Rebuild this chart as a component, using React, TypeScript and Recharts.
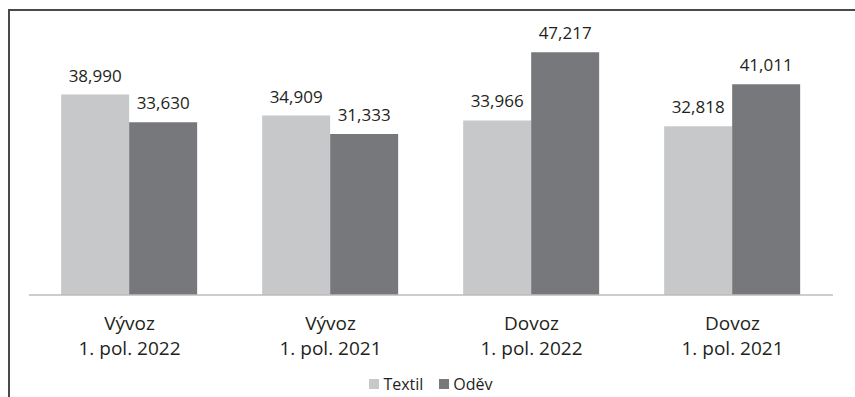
import React from 'react'
import { BarChart, Bar, XAxis, YAxis, Legend, LabelList } from 'recharts'

const categories = ['Vývoz|1. pol. 2022', 'Vývoz|1. pol. 2021', 'Dovoz|1. pol. 2022', 'Dovoz|1. pol. 2021']
const textil = [38990, 34909, 33966, 32818]
const odev = [33630, 31333, 47217, 41011]
const seriesNames = ['Textil', 'Oděv']
const COLORS = ['#c7c8c9', '#77787b']
const FONT = '"Open Sans", sans-serif'

const data = categories.map((name, i) => ({ name, textil: textil[i], odev: odev[i] }))

const fmt = (v: number) => v.toLocaleString('en-US')

const CategoryTick = (props: any) => {
	const { x, y, payload } = props
	const [line1, line2] = String(payload.value).split('|')
	return (
		<text x={x} y={y} textAnchor="middle" fill="#231f20" fontSize={19} fontFamily={FONT}>
			<tspan x={x} dy={27}>{line1}</tspan>
			<tspan x={x} dy={25}>{line2}</tspan>
		</text>
	)
}

const LegendContent = () => (
	<div style={{ display: 'flex', justifyContent: 'center', alignItems: 'center', fontFamily: FONT, fontSize: 16, color: '#231f20', height: 32, paddingTop: 6, boxSizing: 'border-box' }}>
		{seriesNames.map((n, i) => (
			<span key={n} style={{ display: 'flex', alignItems: 'center', marginRight: i === 0 ? 16 : 0 }}>
				<span style={{ width: 10, height: 10, background: COLORS[i], marginRight: 4, display: 'inline-block' }} />
				{n}
			</span>
		))}
	</div>
)

const App: React.FC = () => {
	return (
		<div style={{ position: 'absolute', left: 0, top: 0, width: 855, height: 397, overflow: 'hidden', background: '#fff' }}>
			<div style={{ position: 'absolute', left: 8, top: 9, width: 900, height: 500, borderLeft: '2px solid #4a4a4a', borderTop: '2px solid #4a4a4a' }} />
			<BarChart
				width={855}
				height={397}
				data={data}
				margin={{ top: 38, right: 22, left: 29, bottom: 0 }}
				barCategoryGap="16%"
				barGap={0}
			>
				<XAxis
					dataKey="name"
					axisLine={{ stroke: '#bcbcbc', strokeWidth: 1.5 }}
					tickLine={false}
					tick={<CategoryTick />}
					height={70}
					interval={0}
				/>
				<YAxis hide domain={[0, 50000]} />
				<Legend verticalAlign="bottom" height={32} content={<LegendContent />} />
				<Bar dataKey="textil" name={seriesNames[0]} fill={COLORS[0]} isAnimationActive={false}>
					<LabelList dataKey="textil" position="top" offset={13} formatter={(v: any) => fmt(Number(v))} style={{ fontFamily: FONT, fontSize: 17, fill: '#231f20' }} />
				</Bar>
				<Bar dataKey="odev" name={seriesNames[1]} fill={COLORS[1]} isAnimationActive={false}>
					<LabelList dataKey="odev" position="top" offset={13} formatter={(v: any) => fmt(Number(v))} style={{ fontFamily: FONT, fontSize: 17, fill: '#231f20' }} />
				</Bar>
			</BarChart>
		</div>
	)
}

export default App
